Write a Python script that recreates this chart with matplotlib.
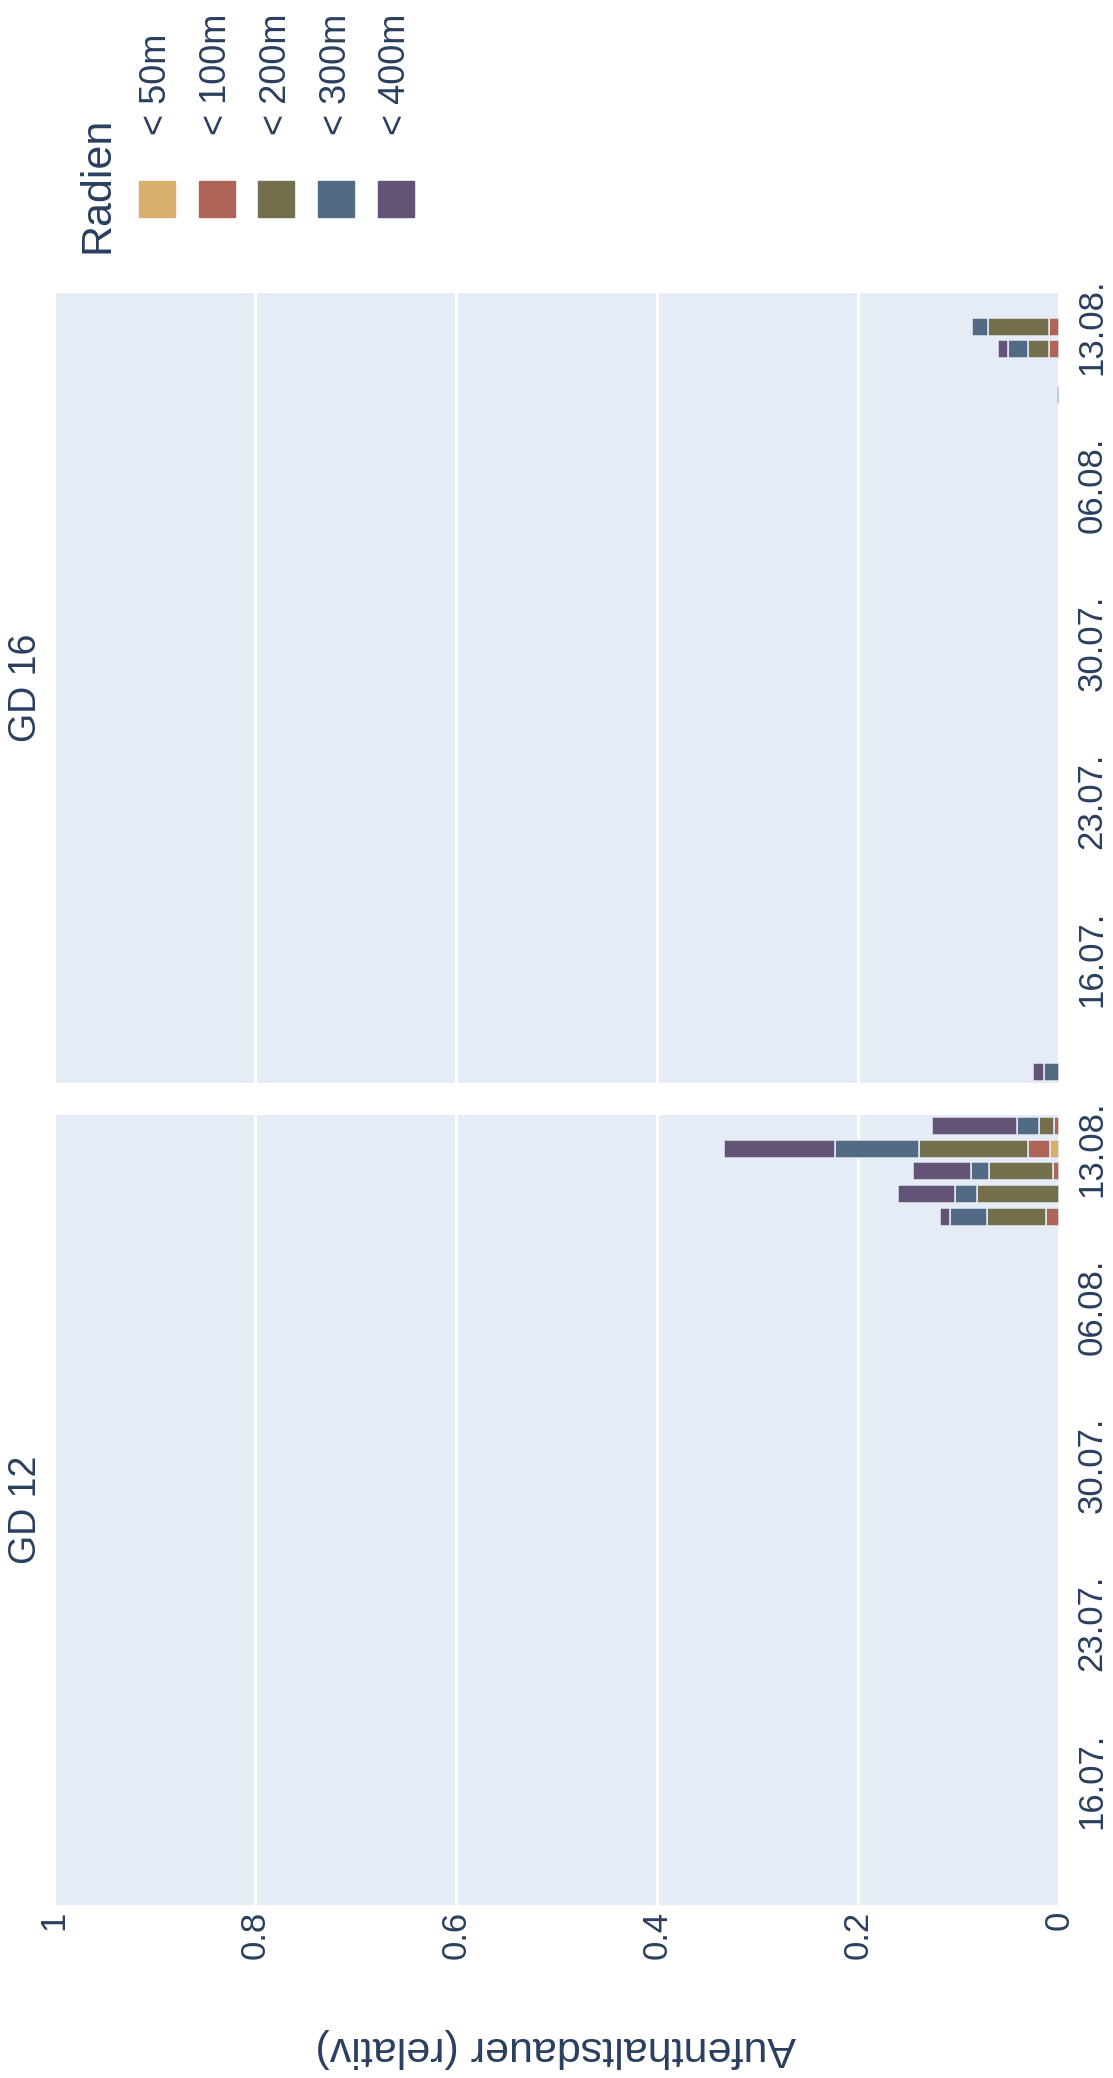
import numpy as np
import matplotlib
matplotlib.use('Agg')
import matplotlib.pyplot as plt
import matplotlib.dates as mdates
from matplotlib.patches import Rectangle

plt.rcParams['font.family'] = ['Liberation Sans', 'DejaVu Sans']

W, H = 1113, 2078
txt = '#2a3f5f'
bg = '#E5ECF6'

radien = ['< 50m', '< 100m', '< 200m', '< 300m', '< 400m']
farben = ['#D9AF6B', '#AF6458', '#736F4C', '#526A83', '#625377']

tage_gd12 = ['2021-08-10', '2021-08-11', '2021-08-12', '2021-08-13', '2021-08-14']
gd12_50 = [0, 0, 0, 0.009, 0]
gd12_100 = [0.013, 0, 0.006, 0.022, 0.005]
gd12_200 = [0.059, 0.082, 0.064, 0.108, 0.015]
gd12_300 = [0.036, 0.021, 0.018, 0.084, 0.022]
gd12_400 = [0.010, 0.057, 0.057, 0.110, 0.084]

tage_gd16 = ['2021-07-11', '2021-08-10', '2021-08-12', '2021-08-13']
gd16_50 = [0, 0, 0, 0]
gd16_100 = [0, 0, 0.010, 0.010]
gd16_200 = [0, 0, 0.021, 0.061]
gd16_300 = [0.015, 0.002, 0.020, 0.016]
gd16_400 = [0.011, 0, 0.010, 0]

tick_tage = ['2021-07-16', '2021-07-23', '2021-07-30', '2021-08-06', '2021-08-13']
tick_namen = ['16.07.', '23.07.', '30.07.', '06.08.', '13.08.']
wert_ticks = [0, 0.2, 0.4, 0.6, 0.8, 1]
wert_namen = ['0', '0.2', '0.4', '0.6', '0.8', '1']

fig = plt.figure(figsize=(W / 100, H / 100), dpi=100)


def panel(top_px, tage, reihen, titel, mit_werten):
    ax = fig.add_axes([54 / W, 1 - (top_px + 790) / H, 1005 / W, 790 / H])
    ax.set_facecolor(bg)
    d = mdates.date2num(np.array(tage, dtype='datetime64[D]'))
    links = np.zeros(len(d))
    for werte, farbe in zip(reihen, farben):
        werte = np.array(werte, dtype=float)
        m = werte > 0
        ax.barh(d[m], werte[m], left=links[m], height=0.8, color=farbe,
                edgecolor=bg, linewidth=1.1, zorder=3)
        links = links + werte
    ax.set_xlim(1, 0)
    lo = mdates.date2num(np.datetime64('2021-07-10T12:00'))
    hi = mdates.date2num(np.datetime64('2021-08-14T12:00'))
    ax.set_ylim(lo, hi)
    ax.set_xticks(wert_ticks)
    ax.set_xticklabels(wert_namen if mit_werten else [''] * len(wert_ticks))
    ax.set_yticks(mdates.date2num(np.array(tick_tage, dtype='datetime64[D]')))
    ax.set_yticklabels(tick_namen, rotation=90, va='center', ha='left')
    ax.yaxis.tick_right()
    ax.tick_params(axis='x', length=0, pad=4, labelsize=25, labelcolor=txt,
                   labelrotation=90, labelbottom=mit_werten)
    ax.tick_params(axis='y', length=0, pad=12, labelsize=25, labelcolor=txt)
    ax.grid(axis='x', color='white', linewidth=2.2)
    ax.set_axisbelow(True)
    for s in ax.spines.values():
        s.set_visible(False)
    fig.text(26 / W, 1 - (top_px + 395) / H, titel, rotation=90, ha='center',
             va='center', fontsize=27, color=txt)
    return ax


panel(293, tage_gd16, [gd16_50, gd16_100, gd16_200, gd16_300, gd16_400], 'GD 16', False)
panel(1115, tage_gd12, [gd12_50, gd12_100, gd12_200, gd12_300, gd12_400], 'GD 12', True)

fig.text(556 / W, 1 - 2048 / H, 'Aufenthaltsdauer (relativ)', rotation=180,
         ha='center', va='center', fontsize=31, color=txt)

# legende
fig.text(97 / W, 1 - 253 / H, 'Radien', rotation=90, ha='center', va='bottom',
         fontsize=31, color=txt)
for i, (name, farbe) in enumerate(zip(radien, farben)):
    x0 = 139 + i * 59.7
    fig.patches.append(Rectangle((x0 / W, 1 - 217 / H), 36 / W, 36 / H,
                                 transform=fig.transFigure, color=farbe))
    fig.text((x0 + 18) / W, 1 - 135 / H, name, rotation=90, ha='center',
             va='bottom', fontsize=26, color=txt)

fig.savefig('out.png', dpi=100, facecolor='white')
